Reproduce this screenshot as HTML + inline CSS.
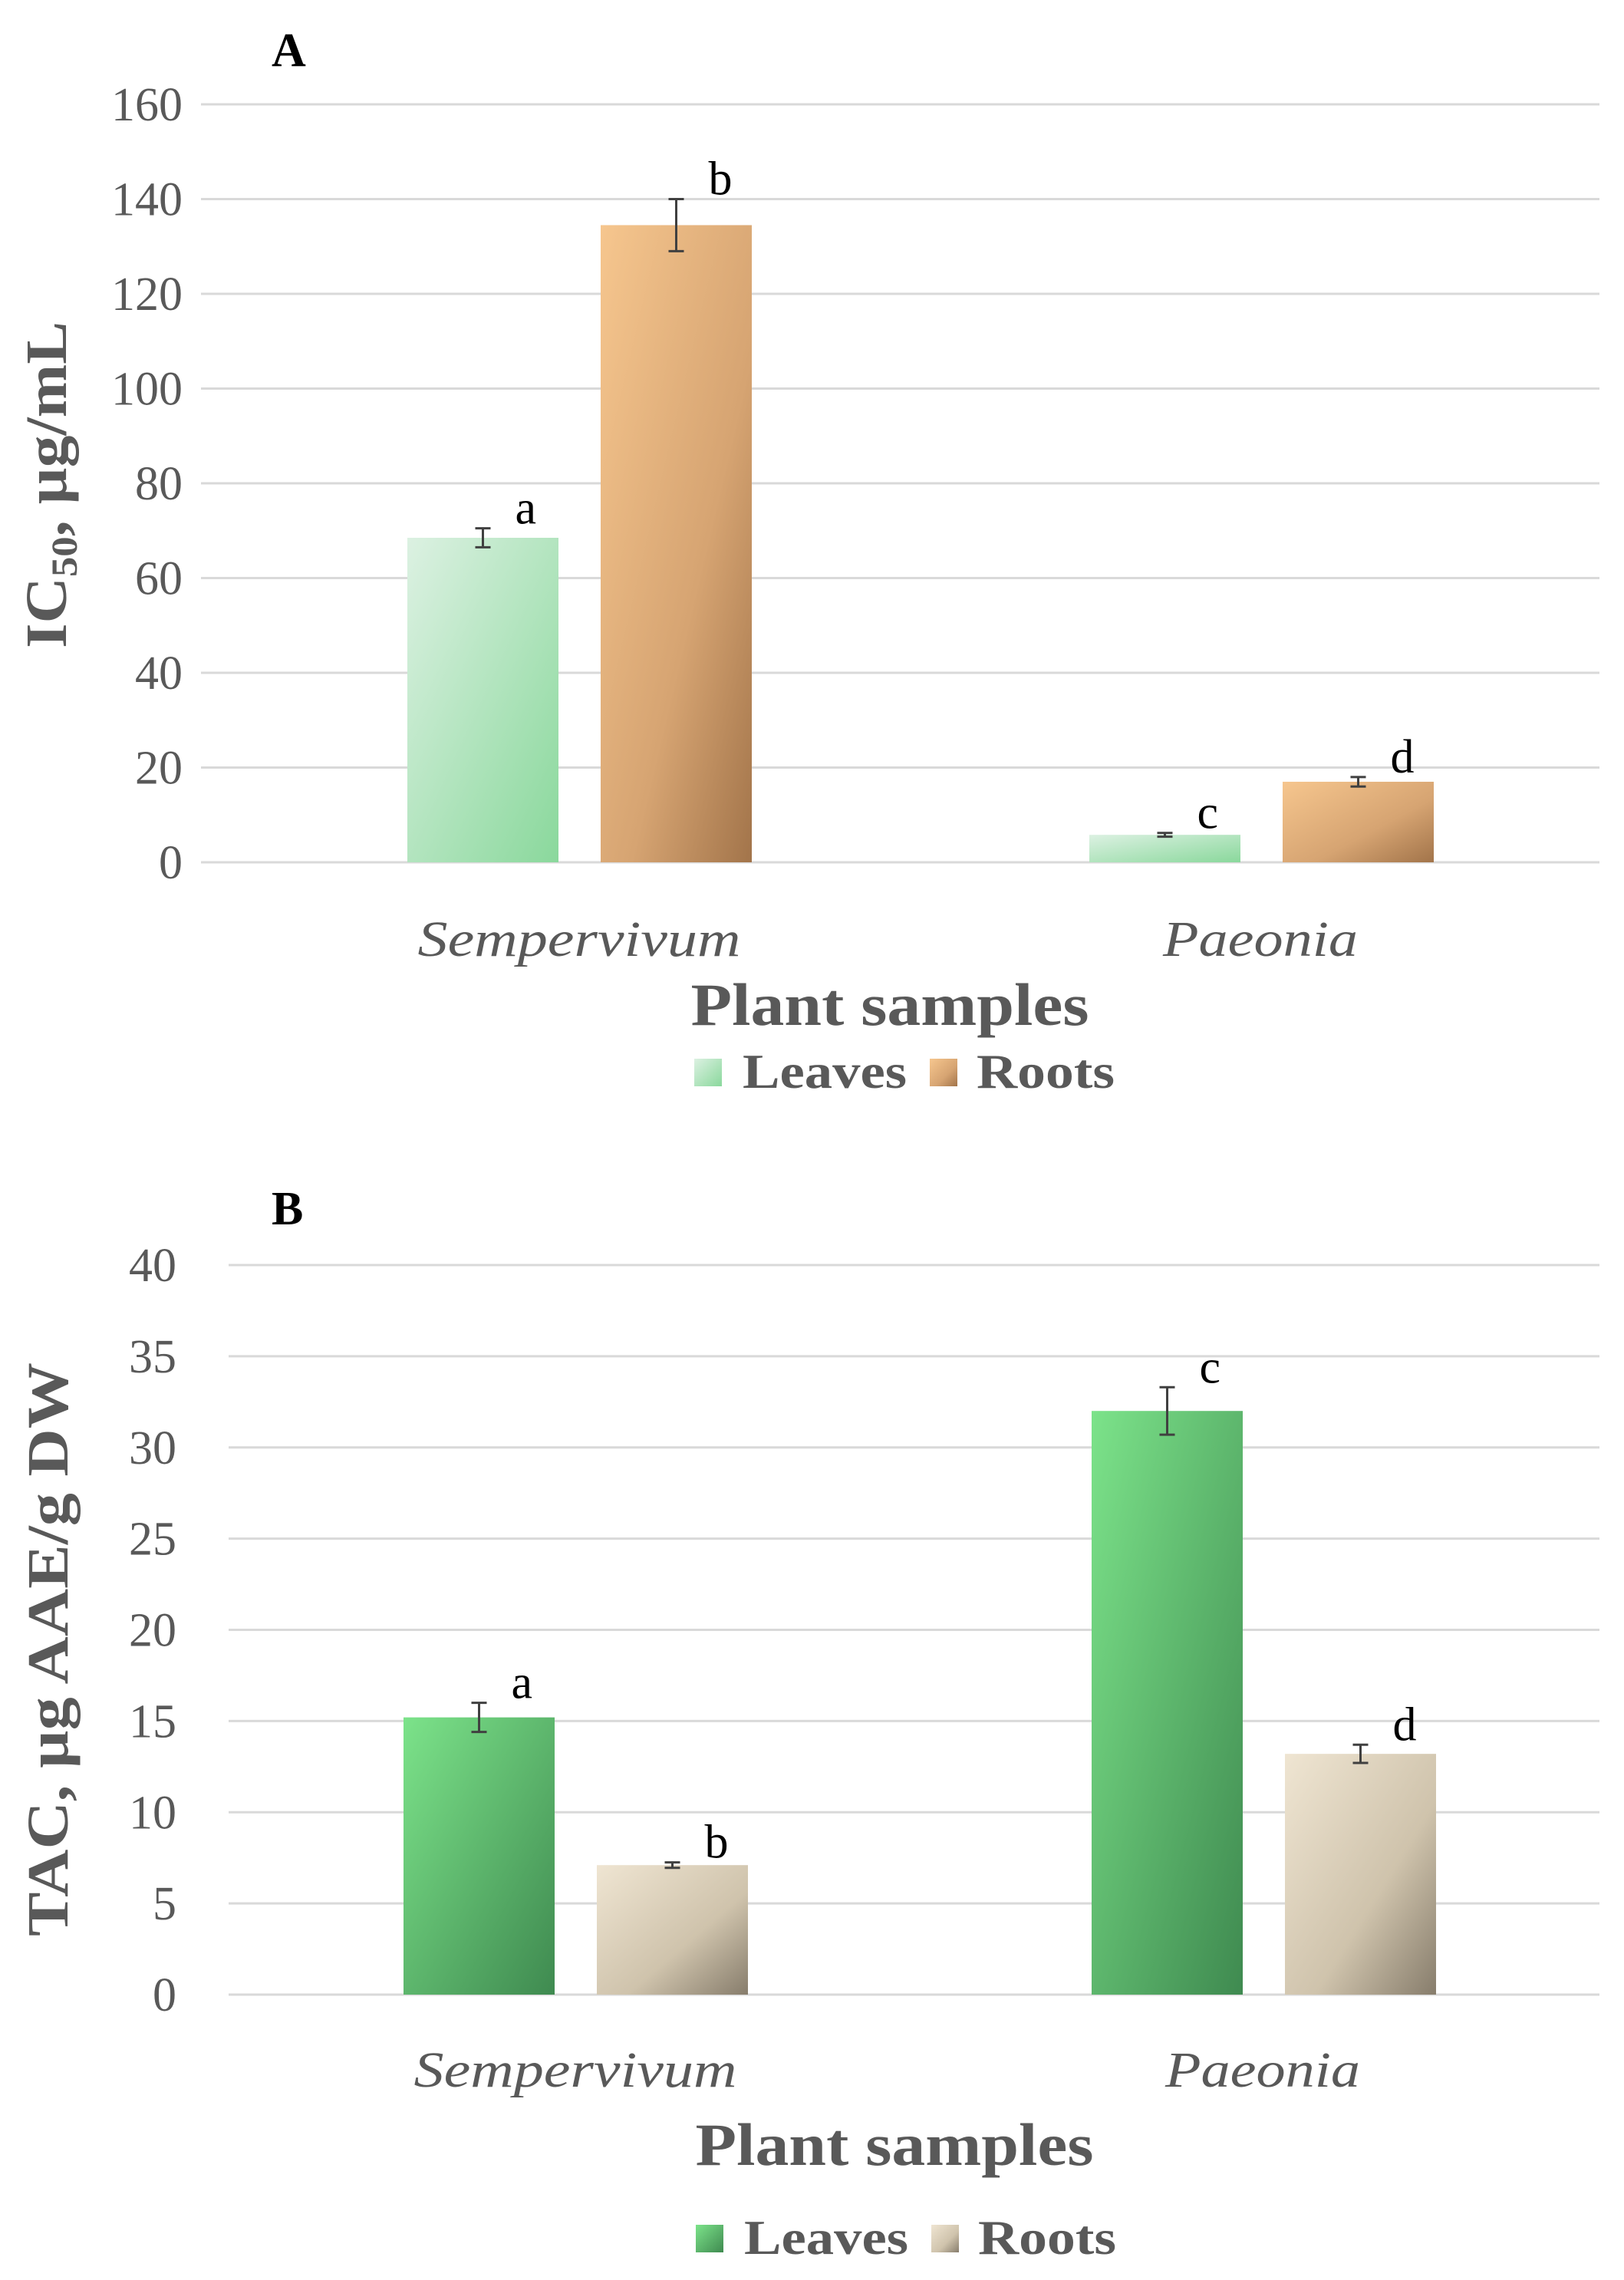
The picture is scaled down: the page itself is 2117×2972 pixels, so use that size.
<!DOCTYPE html>
<html><head><meta charset="utf-8">
<style>
html,body{margin:0;padding:0;background:#fff;}
svg{display:block;}
text{font-family:"Liberation Serif",serif;}
</style></head>
<body>
<svg id="fig" width="2117" height="2972" viewBox="0 0 2117 2972">
<defs>
<linearGradient id="gAL" x1="0" y1="0" x2="1" y2="1"><stop offset="0" stop-color="#dcf1e2"/><stop offset="1" stop-color="#8ad89c"/></linearGradient>
<linearGradient id="gAR" x1="0" y1="0" x2="1" y2="1"><stop offset="0" stop-color="#f6c68e"/><stop offset="0.6" stop-color="#d6a472"/><stop offset="1" stop-color="#a2744a"/></linearGradient>
<linearGradient id="gBL" x1="0" y1="0" x2="1" y2="1"><stop offset="0" stop-color="#7ce38a"/><stop offset="1" stop-color="#3f8a50"/></linearGradient>
<linearGradient id="gBR" x1="0" y1="0" x2="1" y2="1"><stop offset="0" stop-color="#efe5d2"/><stop offset="0.6" stop-color="#cfc3ac"/><stop offset="1" stop-color="#877d6c"/></linearGradient>
</defs>
<g id="chartA"></g>
<g id="chartB"></g>

<text x="354" y="86" font-size="62" font-weight="bold" fill="#000">A</text>
<text transform="translate(86,632) rotate(-90)" text-anchor="middle" font-size="76" font-weight="bold" fill="#595959" textLength="426" lengthAdjust="spacingAndGlyphs">IC<tspan font-size="48" dy="14">50</tspan><tspan dy="-14">, µg/mL</tspan></text>
<text x="755" y="1246" text-anchor="middle" font-size="66" font-style="italic" fill="#595959" textLength="421" lengthAdjust="spacingAndGlyphs">Sempervivum</text>
<text x="1643" y="1246" text-anchor="middle" font-size="66" font-style="italic" fill="#595959" textLength="254" lengthAdjust="spacingAndGlyphs">Paeonia</text>
<text x="1160" y="1336" text-anchor="middle" font-size="78" font-weight="bold" fill="#595959" textLength="519" lengthAdjust="spacingAndGlyphs">Plant samples</text>
<g>
<rect x="905" y="1380" width="36" height="36" fill="url(#gAL)"/>
<text x="968" y="1418" font-size="64" font-weight="bold" fill="#595959" textLength="214" lengthAdjust="spacingAndGlyphs">Leaves</text>
<rect x="1212" y="1380" width="36" height="36" fill="url(#gAR)"/>
<text x="1273" y="1418" font-size="64" font-weight="bold" fill="#595959" textLength="180" lengthAdjust="spacingAndGlyphs">Roots</text>
</g>

<text x="354" y="1596" font-size="62" font-weight="bold" fill="#000">B</text>
<text transform="translate(88,2150) rotate(-90)" text-anchor="middle" font-size="76" font-weight="bold" fill="#595959" textLength="748" lengthAdjust="spacingAndGlyphs">TAC, µg AAE/g DW</text>
<text x="750" y="2720" text-anchor="middle" font-size="66" font-style="italic" fill="#595959" textLength="421" lengthAdjust="spacingAndGlyphs">Sempervivum</text>
<text x="1646" y="2720" text-anchor="middle" font-size="66" font-style="italic" fill="#595959" textLength="254" lengthAdjust="spacingAndGlyphs">Paeonia</text>
<text x="1166" y="2822" text-anchor="middle" font-size="78" font-weight="bold" fill="#595959" textLength="519" lengthAdjust="spacingAndGlyphs">Plant samples</text>
<g>
<rect x="907" y="2900" width="36" height="36" fill="url(#gBL)"/>
<text x="970" y="2938" font-size="64" font-weight="bold" fill="#595959" textLength="214" lengthAdjust="spacingAndGlyphs">Leaves</text>
<rect x="1214" y="2900" width="36" height="36" fill="url(#gBR)"/>
<text x="1275" y="2938" font-size="64" font-weight="bold" fill="#595959" textLength="180" lengthAdjust="spacingAndGlyphs">Roots</text>
</g>
</svg>
<script>
const categoriesA = ["Sempervivum", "Paeonia"];
const leavesA = [68.5, 5.8];
const rootsA = [134.5, 17];
const leavesErrA = [2, 0.4];
const rootsErrA = [5.5, 1];
const lettersLeavesA = ["a", "c"];
const lettersRootsA = ["b", "d"];
const ticksA = [0, 20, 40, 60, 80, 100, 120, 140, 160];

const categoriesB = ["Sempervivum", "Paeonia"];
const leavesB = [15.2, 32];
const rootsB = [7.1, 13.2];
const leavesErrB = [0.8, 1.3];
const rootsErrB = [0.15, 0.5];
const lettersLeavesB = ["a", "c"];
const lettersRootsB = ["b", "d"];
const ticksB = [0, 5, 10, 15, 20, 25, 30, 35, 40];

const NS = "http://www.w3.org/2000/svg";
function mk(tag, attrs, parent) {
  const e = document.createElementNS(NS, tag);
  for (const k in attrs) e.setAttribute(k, attrs[k]);
  parent.appendChild(e);
  return e;
}

function drawChart(g, cfg) {
  const y = v => cfg.y0 - (v - cfg.min) / (cfg.max - cfg.min) * (cfg.y0 - cfg.y1);
  const bandW = (cfg.bR - cfg.bL) / cfg.cats.length;
  const barW = 197;
  const gap = 55;
  cfg.ticks.forEach(t => {
    const ln = mk("line", {x1: cfg.xL, x2: cfg.xR, y1: y(t), y2: y(t), stroke: "#d9d9d9", "stroke-width": 3}, g);
    
    
    const tx = mk("text", {x: cfg.tickX, y: y(t) + 21, "text-anchor": "end", "font-size": 62, fill: "#595959"}, g);
    tx.textContent = t;
    
    
  });
  cfg.cats.forEach((c, i) => {
    const cx = cfg.bL + bandW * (i + 0.5);
    const series = [
      {v: cfg.s1[i], e: cfg.e1[i], fill: cfg.f1, x: cx - gap / 2 - barW, lab: cfg.l1[i], n: "leaves"},
      {v: cfg.s2[i], e: cfg.e2[i], fill: cfg.f2, x: cx + gap / 2, lab: cfg.l2[i], n: "roots"}
    ];
    series.forEach(s => {
      const r = mk("rect", {x: s.x, y: y(s.v), width: barW, height: y(0) - y(s.v), fill: s.fill}, g);
      
      
      const mx = s.x + barW / 2;
      const eg = mk("g", {stroke: "#404040", "stroke-width": 3}, g);
      
      
      mk("line", {x1: mx, x2: mx, y1: y(s.v + s.e), y2: y(s.v - s.e)}, eg);
      mk("line", {x1: mx - 10, x2: mx + 10, y1: y(s.v + s.e), y2: y(s.v + s.e)}, eg);
      mk("line", {x1: mx - 10, x2: mx + 10, y1: y(s.v - s.e), y2: y(s.v - s.e)}, eg);
      const lt = mk("text", {x: mx + 42, y: y(s.v + s.e) - 6, "font-size": 62, fill: "#000"}, g);
      lt.textContent = s.lab;
      
      
    });
  });
}

drawChart(document.getElementById("chartA"), {
  cats: categoriesA, s1: leavesA, s2: rootsA, e1: leavesErrA, e2: rootsErrA,
  l1: lettersLeavesA, l2: lettersRootsA, ticks: ticksA, min: 0, max: 160,
  y0: 1124, y1: 136, xL: 262, xR: 2085, bL: 311, bR: 2089, tickX: 238, f1: "url(#gAL)", f2: "url(#gAR)"
});
drawChart(document.getElementById("chartB"), {
  cats: categoriesB, s1: leavesB, s2: rootsB, e1: leavesErrB, e2: rootsErrB,
  l1: lettersLeavesB, l2: lettersRootsB, ticks: ticksB, min: 0, max: 40,
  y0: 2600, y1: 1649, xL: 298, xR: 2085, bL: 302, bR: 2096, tickX: 230, f1: "url(#gBL)", f2: "url(#gBR)"
});
</script>
</body></html>
